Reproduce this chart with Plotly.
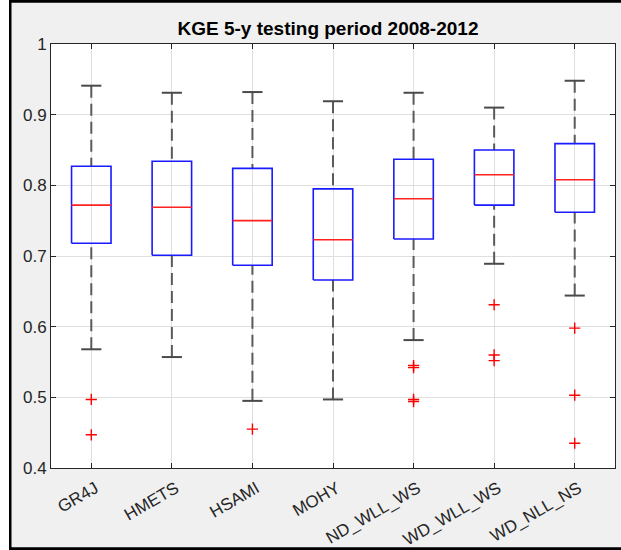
import plotly.graph_objects as go

categories = ["GR4J", "HMETS", "HSAMI", "MOHY", "ND_WLL_WS", "WD_WLL_WS", "WD_NLL_NS"]
upper_whisker = [0.941, 0.931, 0.932, 0.919, 0.931, 0.910, 0.948]
q3 = [0.827, 0.834, 0.824, 0.795, 0.837, 0.850, 0.859]
median = [0.772, 0.769, 0.750, 0.723, 0.781, 0.815, 0.808]
q1 = [0.718, 0.701, 0.687, 0.666, 0.724, 0.772, 0.762]
lower_whisker = [0.568, 0.557, 0.495, 0.497, 0.581, 0.689, 0.644]
outliers = [
    [0.497, 0.447],
    [],
    [0.455],
    [],
    [0.545, 0.542, 0.497, 0.494],
    [0.631, 0.560, 0.552],
    [0.598, 0.503, 0.435],
]
y_ticks = [0.4, 0.5, 0.6, 0.7, 0.8, 0.9, 1.0]
y_ticktext = ["0.4", "0.5", "0.6", "0.7", "0.8", "0.9", "1"]
title_text = "KGE 5-y testing period 2008-2012"

BOX_HALF = 0.245
CAP_HALF = 0.125

fig = go.Figure()

bx, by, mx, my, wx, wy, cx, cy, ox, oy = [], [], [], [], [], [], [], [], [], []
for i, cat in enumerate(categories):
    p = i + 1
    bx += [p - BOX_HALF, p + BOX_HALF, p + BOX_HALF, p - BOX_HALF, p - BOX_HALF, None]
    by += [q1[i], q1[i], q3[i], q3[i], q1[i], None]
    mx += [p - BOX_HALF, p + BOX_HALF, None]
    my += [median[i], median[i], None]
    wx += [p, p, None, p, p, None]
    wy += [upper_whisker[i], q3[i], None, lower_whisker[i], q1[i], None]
    cx += [p - CAP_HALF, p + CAP_HALF, None, p - CAP_HALF, p + CAP_HALF, None]
    cy += [upper_whisker[i], upper_whisker[i], None, lower_whisker[i], lower_whisker[i], None]
    for v in outliers[i]:
        ox.append(p)
        oy.append(v)

fig.add_trace(go.Scatter(x=wx, y=wy, mode="lines", line=dict(color="#5a5a5a", width=2, dash="12px,6px"), hoverinfo="skip", showlegend=False))
fig.add_trace(go.Scatter(x=cx, y=cy, mode="lines", line=dict(color="#4a4a4a", width=2), hoverinfo="skip", showlegend=False))
fig.add_trace(go.Scatter(x=bx, y=by, mode="lines", line=dict(color="#1a1aff", width=1.6), hoverinfo="skip", showlegend=False))
fig.add_trace(go.Scatter(x=mx, y=my, mode="lines", line=dict(color="#ff2020", width=1.6), hoverinfo="skip", showlegend=False))
fig.add_trace(go.Scatter(x=ox, y=oy, mode="markers",
                         marker=dict(symbol="cross-thin", size=8, color="red", line=dict(color="red", width=1.4)),
                         hoverinfo="skip", showlegend=False))

W, H = 621, 550
ML, MR, MT, MB = 51, 6, 44, 82
PW, PH = W - ML - MR, H - MT - MB

def px_x(px):
    return (px - ML) / PW

def px_y(py):
    return (H - MB - py) / PH

shapes = [
    dict(type="rect", xref="paper", yref="paper", x0=px_x(0), x1=px_x(9), y0=px_y(H), y1=px_y(0),
         fillcolor="white", line=dict(width=0), layer="above"),
    dict(type="rect", xref="paper", yref="paper", x0=px_x(9), x1=px_x(11.5), y0=px_y(H), y1=px_y(0),
         fillcolor="black", line=dict(width=0), layer="above"),
    dict(type="rect", xref="paper", yref="paper", x0=px_x(9), x1=px_x(W), y0=px_y(2.7), y1=px_y(0),
         fillcolor="black", line=dict(width=0), layer="above"),
    dict(type="rect", xref="paper", yref="paper", x0=px_x(9), x1=px_x(W), y0=px_y(H), y1=px_y(547.3),
         fillcolor="black", line=dict(width=0), layer="above"),
]

axis_common = dict(showline=True, linecolor="#262626", linewidth=1, mirror="ticks", ticks="inside",
                   ticklen=5, tickcolor="#262626", showgrid=True, gridcolor="#dfdfdf", gridwidth=1,
                   zeroline=False, automargin=False,
                   tickfont=dict(family="Liberation Sans, Arial", size=17, color="#262626"))

fig.update_layout(
    width=W, height=H,
    margin=dict(l=ML, r=MR, t=MT, b=MB, pad=0, autoexpand=False),
    paper_bgcolor="#f0f0f0", plot_bgcolor="white",
    title=dict(text="<b>" + title_text + "</b>", x=px_x(328), xref="paper", xanchor="center",
               y=1 - 28 / H, yanchor="middle", font=dict(family="Liberation Sans, Arial", size=19, color="#000000")),
    xaxis=dict(range=[0.5, 7.5], tickvals=list(range(1, len(categories) + 1)), ticktext=categories,
               tickangle=-30, ticklabelstandoff=3, ticklabelshift=4, **axis_common),
    yaxis=dict(range=[0.4, 1.0], tickvals=y_ticks, ticktext=y_ticktext, **axis_common),
    shapes=shapes,
)

fig.write_html("out.html", config={"displayModeBar": False},
               post_script="document.body.style.margin='0px';document.body.style.overflow='hidden';document.documentElement.style.overflow='hidden';")
